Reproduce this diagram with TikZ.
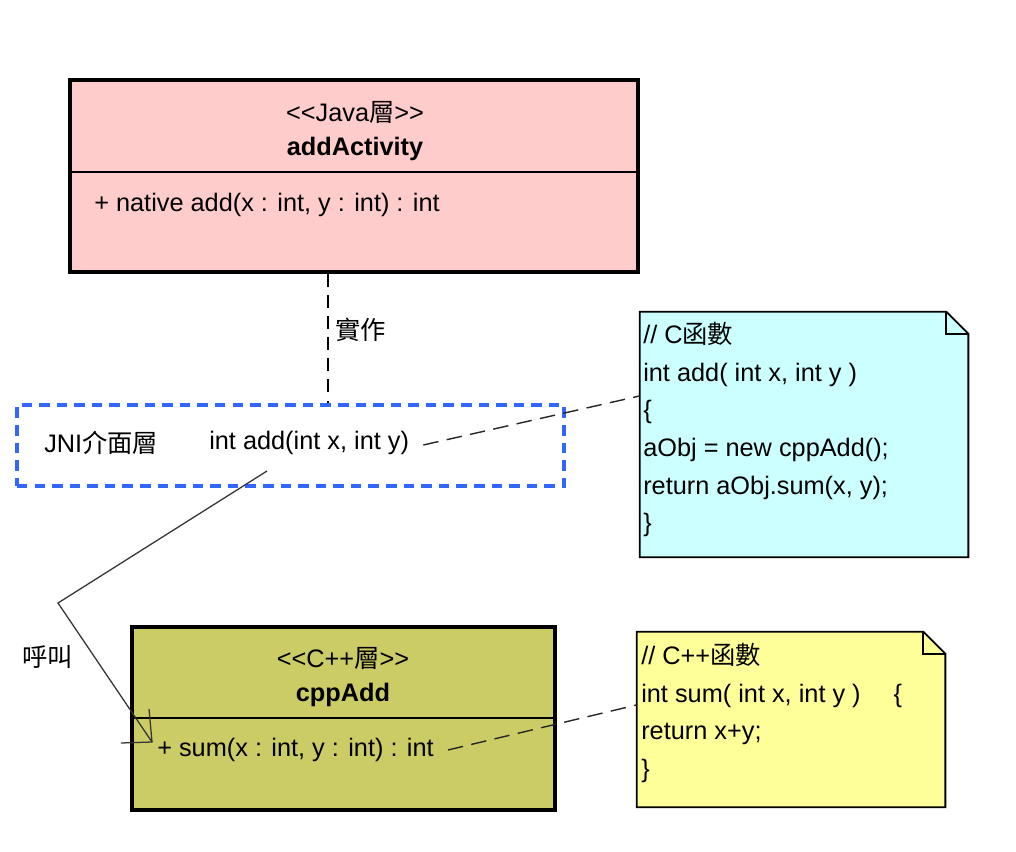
\documentclass[tikz,border=0pt]{standalone}
\usepackage{fontspec}
\setmainfont{Liberation Sans}
\newfontfamily\cjk{Noto Sans CJK TC}
\usetikzlibrary{arrows.meta,calc}

\definecolor{javapink}{HTML}{FFCCCC}
\definecolor{cppolive}{HTML}{CCCC66}
\definecolor{notecyan}{HTML}{CCFFFF}
\definecolor{noteyellow}{HTML}{FFFF99}
\definecolor{jniblue}{HTML}{3366FF}

\tikzset{
  classbox/.style={draw, line width=2.8pt, inner sep=0pt},
  notebox/.style={inner sep=0pt},
  notetext/.style={anchor=north west, align=left, inner sep=0pt, font=\fontsize{18}{26.8}\selectfont},
  notelink/.style={draw=black!85, line width=1pt, dash pattern=on 11pt off 6pt},
  call/.style={draw=black!80, line width=0.9pt}
}

\begin{document}
\begin{tikzpicture}[x=0.025cm,y=-0.025cm,every node/.append style={font=\fontsize{18}{21}\selectfont}]
\useasboundingbox (0,0) rectangle (1016,852);
% Java layer
\node[classbox, fill=javapink, minimum width=14.2cm, minimum height=4.8cm] (java) at (354,176) {};
\draw[line width=0.8pt] (java.west |- 0,172) -- (java.east |- 0,172);
\node (javaster) at (355,112) {<{}<Java{\cjk 層}>{}>};
\node[font=\fontsize{18}{21}\selectfont\bfseries] (javaname) at (355,149) {addActivity};
\node[anchor=west, inner sep=0pt] (javaadd) at (94,205) {+ native add(x : int, y : int) : int};

% JNI layer
\node[draw=jniblue, line width=2.4pt, dash pattern=on 7.5pt off 5pt, minimum width=13.675cm, minimum height=2.025cm] (jni) at (290.5,445.5) {};
\node[anchor=west, inner sep=0pt] (jnilabel) at (44,443) {JNI{\cjk 介面層}};
\node[anchor=west, inner sep=0pt] (jniadd) at (209,443) {int add(int x, int y)};
\coordinate (impl) at (328,0);
\draw[line width=1pt, dash pattern=on 9pt off 6pt] (java.south -| impl) -- (jni.north -| impl);
\node[anchor=west, inner sep=0pt] (impllabel) at (335,330) {\cjk 實作};

% C++ layer
\node[classbox, fill=cppolive, minimum width=10.575cm, minimum height=4.575cm] (cpp) at (343.5,718.5) {};
\draw[line width=0.8pt] (cpp.west |- 0,718) -- (cpp.east |- 0,718);
\node (cppster) at (343,658) {<{}<C++{\cjk 層}>{}>};
\node[font=\fontsize{18}{21}\selectfont\bfseries] (cppname) at (343,695) {cppAdd};
\node[anchor=west, inner sep=0pt] (cppsum) at (157,750) {+ sum(x : int, y : int) : int};

% notes
\node[notebox, minimum width=8.2cm, minimum height=6.125cm] (cnote) at (804,434.5) {};
\draw[line width=1.3pt, fill=notecyan] (cnote.north west) -- ($(cnote.north east)+(-22,0)$) -- ($(cnote.north east)+(0,22)$) -- (cnote.south east) -- (cnote.south west) -- cycle;
\draw[line width=1.3pt] ($(cnote.north east)+(-22,0)$) -- ($(cnote.north east)+(-22,22)$) -- ($(cnote.north east)+(0,22)$);
\node[notetext] (ctext) at (643,322) {//{} C{\cjk 函數}\\int add( int x, int y )\\\{\\aObj = new cppAdd();\\return aObj.sum(x, y);\\\}};

\node[notebox, minimum width=7.7cm, minimum height=4.375cm] (ynote) at (791,719.5) {};
\draw[line width=1.3pt, fill=noteyellow] (ynote.north west) -- ($(ynote.north east)+(-22,0)$) -- ($(ynote.north east)+(0,22)$) -- (ynote.south east) -- (ynote.south west) -- cycle;
\draw[line width=1.3pt] ($(ynote.north east)+(-22,0)$) -- ($(ynote.north east)+(-22,22)$) -- ($(ynote.north east)+(0,22)$);
\node[notetext] (ytext) at (641,643) {//{} C++{\cjk 函數}\\int sum( int x, int y )\hspace{1.3em}\{\\return x+y;\\\}};

% connectors
\draw[notelink] ($(jniadd.east)+(14,2)$) -- ($(cnote.north west)!0.343!(cnote.south west)$);
\draw[notelink] ($(cppsum.east)+(14,0)$) -- ($(ynote.north west)!0.417!(ynote.south west)$);
\coordinate (callstart) at (267,471);
\coordinate (callbend) at (58,603);
\coordinate (calltip) at (152,742);
\draw[call] (callstart) -- (callbend) -- (calltip);
\draw[call] ($(calltip)+(-3,-33)$) -- (calltip) -- ($(calltip)+(-31,1)$);
\node[anchor=west, inner sep=0pt] (calllabel) at (22,657) {\cjk 呼叫};
\end{tikzpicture}
\end{document}
